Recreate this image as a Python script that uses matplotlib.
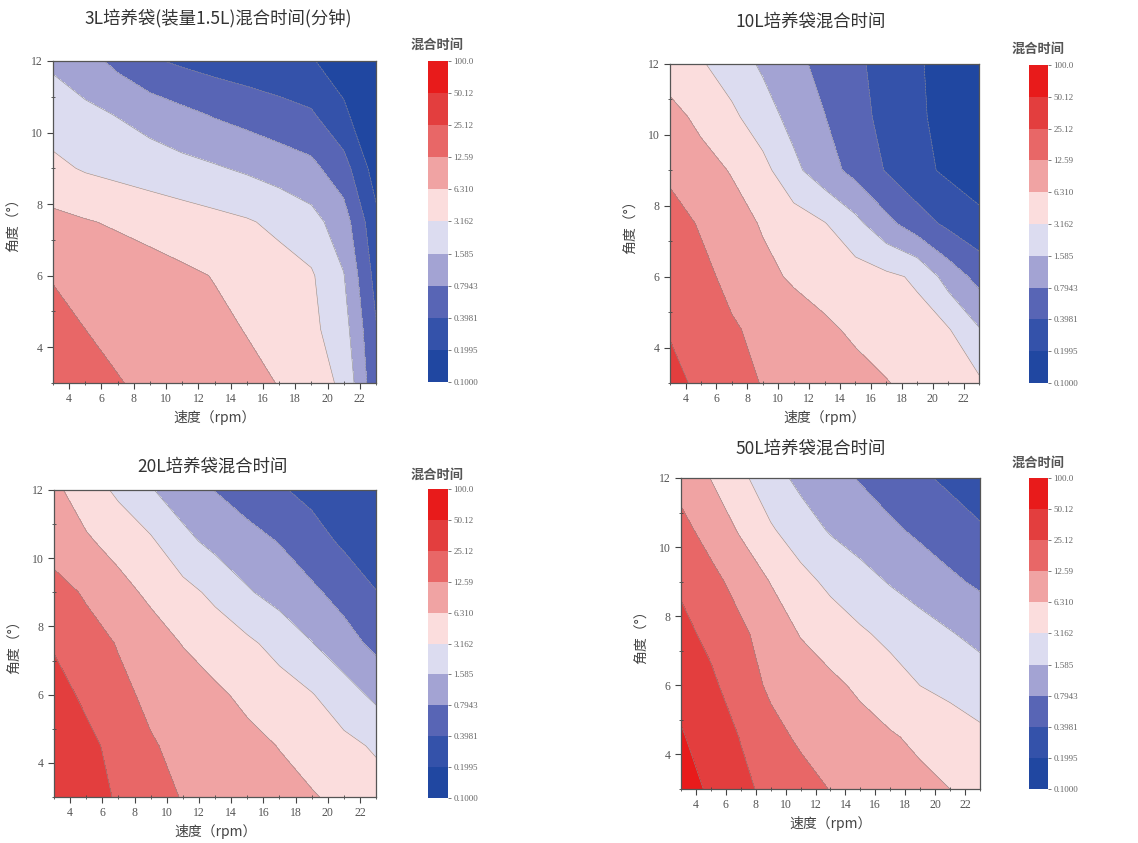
import numpy as np
import matplotlib.pyplot as plt
from matplotlib.colors import ListedColormap, BoundaryNorm
from matplotlib.ticker import MultipleLocator, FixedLocator, FixedFormatter

plt.rcParams['font.family'] = ['Noto Sans CJK SC', 'DejaVu Sans']

# grid: speed (rpm) x angle (deg)
speed = [3, 5, 7, 9, 11, 13, 15, 17, 19, 21, 23]
angle = [3, 4.5, 6, 7.5, 9, 10.5, 12]

# log10(mixing time, min), one row per angle
log_t_3L = [
    [1.239, 1.176, 1.113, 1.049, 0.986, 0.923, 0.860, 0.792, 0.638, 0.445, -0.317],
    [1.161, 1.100, 1.039, 0.978, 0.917, 0.856, 0.790, 0.681, 0.571, 0.322, -0.380],
    [1.088, 1.029, 0.970, 0.911, 0.851, 0.789, 0.704, 0.619, 0.534, 0.212, -0.500],
    [0.880, 0.821, 0.763, 0.704, 0.645, 0.587, 0.528, 0.433, 0.304, 0.039, -0.620],
    [0.570, 0.471, 0.411, 0.350, 0.290, 0.230, 0.155, 0.066, -0.023, -0.277, -0.840],
    [0.352, 0.271, 0.187, 0.081, -0.026, -0.124, -0.204, -0.284, -0.364, -0.648, -0.950],
    [0.150, 0.015, -0.180, -0.360, -0.450, -0.520, -0.575, -0.625, -0.680, -0.829, -0.970],
]
log_t_10L = [
    [1.481, 1.345, 1.209, 1.086, 1.018, 0.949, 0.881, 0.812, 0.727, 0.638, 0.550],
    [1.380, 1.256, 1.132, 1.031, 0.938, 0.845, 0.760, 0.681, 0.603, 0.524, 0.220],
    [1.300, 1.175, 1.023, 0.872, 0.764, 0.696, 0.628, 0.560, 0.458, 0.075, -0.197],
    [1.223, 1.072, 0.921, 0.775, 0.644, 0.514, 0.283, -0.017, -0.267, -0.463, -0.620],
    [1.040, 0.913, 0.780, 0.596, 0.273, 0.025, -0.192, -0.419, -0.614, -0.754, -0.850],
    [0.898, 0.730, 0.563, 0.333, 0.103, -0.092, -0.297, -0.486, -0.659, -0.786, -0.900],
    [0.650, 0.530, 0.350, 0.156, -0.021, -0.187, -0.345, -0.505, -0.668, -0.811, -0.950],
]
log_t_20L = [
    [1.620, 1.523, 1.369, 1.215, 1.084, 1.018, 0.953, 0.888, 0.823, 0.729, 0.620],
    [1.620, 1.480, 1.302, 1.124, 1.031, 0.952, 0.873, 0.791, 0.682, 0.574, 0.465],
    [1.520, 1.340, 1.168, 1.041, 0.944, 0.847, 0.741, 0.628, 0.516, 0.330, 0.132],
    [1.370, 1.226, 1.082, 0.934, 0.789, 0.672, 0.556, 0.400, 0.210, 0.018, -0.174],
    [1.224, 1.061, 0.898, 0.742, 0.597, 0.432, 0.230, 0.087, -0.045, -0.207, -0.390],
    [0.950, 0.836, 0.695, 0.541, 0.278, 0.116, 0.003, -0.114, -0.282, -0.449, -0.617],
    [0.860, 0.653, 0.442, 0.219, 0.053, -0.107, -0.239, -0.370, -0.478, -0.579, -0.680],
]
log_t_50L = [
    [1.838, 1.653, 1.468, 1.324, 1.204, 1.091, 1.018, 0.946, 0.873, 0.800, 0.727],
    [1.726, 1.558, 1.389, 1.188, 1.057, 0.981, 0.905, 0.829, 0.743, 0.652, 0.560],
    [1.616, 1.461, 1.237, 1.053, 0.956, 0.860, 0.751, 0.624, 0.498, 0.424, 0.350],
    [1.487, 1.321, 1.155, 0.970, 0.784, 0.661, 0.539, 0.428, 0.323, 0.218, 0.112],
    [1.351, 1.183, 0.995, 0.790, 0.595, 0.435, 0.306, 0.179, 0.067, -0.046, -0.150],
    [1.184, 0.990, 0.764, 0.533, 0.340, 0.172, 0.062, -0.049, -0.157, -0.264, -0.370],
    [1.000, 0.793, 0.569, 0.314, 0.128, 0.003, -0.121, -0.238, -0.355, -0.457, -0.550],
]

titles = ['3L培养袋(装量1.5L)混合时间(分钟)', '10L培养袋混合时间',
          '20L培养袋混合时间', '50L培养袋混合时间']

levels = np.linspace(-1, 2, 11)
level_labels = [f'{10 ** v:#.4g}' for v in levels]
band_colors = ['#2047a1', '#3452aa', '#5865b5', '#a3a3d3', '#dcdcf0',
               '#fbdddd', '#f0a3a3', '#e86767', '#e33e3e', '#e81b1b']
cmap = ListedColormap(band_colors)

fig = plt.figure(figsize=(11.38, 8.43), dpi=100)

# axes rects, colorbar rects, title pos, cbar label pos (figure fractions)
ax_rects = [[0.0466, 0.5457, 0.2838, 0.3820], [0.5888, 0.5457, 0.2715, 0.3784],
            [0.0475, 0.0546, 0.2830, 0.3642], [0.5984, 0.0641, 0.2627, 0.3689]]
cb_rects = [[0.3761, 0.5469, 0.0176, 0.3808], [0.9042, 0.5457, 0.0167, 0.3772],
            [0.3761, 0.0534, 0.0176, 0.3665], [0.9042, 0.0641, 0.0167, 0.3689]]
title_pos = [(0.1916, 0.9786), (0.7127, 0.9739), (0.1863, 0.4460), (0.7127, 0.4674)]
cblab_pos = [(0.3840, 0.9466), (0.9121, 0.9419), (0.3840, 0.4365), (0.9121, 0.4508)]

data = [log_t_3L, log_t_10L, log_t_20L, log_t_50L]
serif = ['Liberation Serif', 'DejaVu Serif']

for i in range(4):
    z = np.array(data[i])
    norm = BoundaryNorm(levels, cmap.N)  # own norm per panel
    ax = fig.add_axes(ax_rects[i])
    cs = ax.contourf(speed, angle, z, levels=levels, cmap=cmap, norm=norm)
    ax.contour(speed, angle, z, levels=levels, colors='#8c8c8c', linewidths=0.4)
    ax.set_xlim(3, 23)
    ax.set_ylim(3, 12)
    ax.xaxis.set_minor_locator(MultipleLocator(1))
    ax.yaxis.set_minor_locator(MultipleLocator(1))
    ax.set_xticks(range(4, 23, 2))
    ax.set_yticks(range(4, 13, 2))
    ax.tick_params(which='major', direction='out', length=4, width=0.8,
                   color='#444444', labelcolor='#555555', labelsize=8.5)
    ax.tick_params(which='minor', direction='inout', length=3, width=0.6, color='#444444')
    for lab in ax.get_xticklabels() + ax.get_yticklabels():
        lab.set_family(serif)
    for sp in ax.spines.values():
        sp.set_color('#555555')
        sp.set_linewidth(0.9)
    ax.set_xlabel('速度（rpm）', fontsize=10, color='#444444', labelpad=3)
    ax.set_ylabel('角度（°）', fontsize=10, color='#444444', labelpad=7)

    fig.text(title_pos[i][0], title_pos[i][1], titles[i], ha='center', va='center',
             fontsize=12.5, color='#333333')

    cax = fig.add_axes(cb_rects[i])
    cb = fig.colorbar(cs, cax=cax)
    cb.ax.yaxis.set_major_locator(FixedLocator(levels))
    cb.ax.yaxis.set_major_formatter(FixedFormatter(level_labels))
    cb.ax.tick_params(length=2.5, width=0.6, color='#666666', labelsize=6.5,
                      labelcolor='#666666', pad=1.5)
    for lab in cb.ax.get_yticklabels():
        lab.set_family(serif)
    cb.outline.set_visible(False)
    fig.text(cblab_pos[i][0], cblab_pos[i][1], '混合时间', ha='center', va='center',
             fontsize=9.5, color='#555555', fontweight='bold')

fig.savefig('out.png', dpi=100)
